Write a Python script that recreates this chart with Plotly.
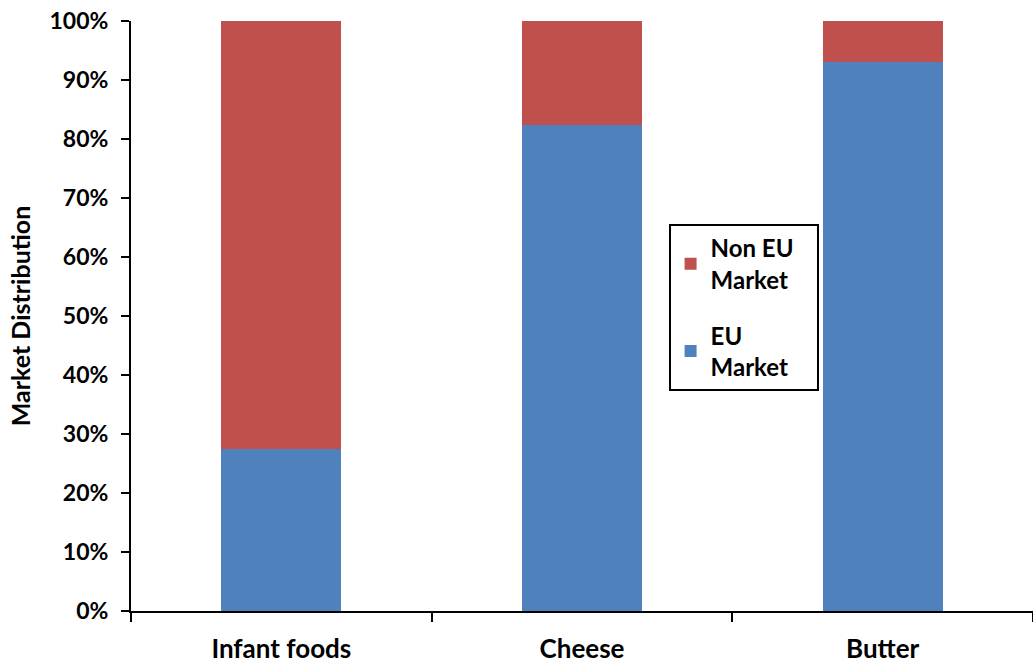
import plotly.graph_objects as go

categories = ["Infant foods", "Cheese", "Butter"]
eu_market = [27.5, 82.4, 93.0]
non_eu_market = [72.5, 17.6, 7.0]
y_ticks = [0, 10, 20, 30, 40, 50, 60, 70, 80, 90, 100]
y_tick_labels = [f"{v}%" for v in y_ticks]

FONT = "Lato, Carlito, Calibri, sans-serif"

fig = go.Figure()
fig.add_trace(go.Bar(
    x=categories, y=eu_market, name="EU<br>Market&nbsp;&nbsp;&nbsp;",
    legendgroup="eu", legendrank=2,
    marker=dict(color="#4F81BD", line=dict(width=0)),
))
fig.add_trace(go.Bar(
    x=categories, y=non_eu_market, name="Non EU&nbsp;&nbsp;&nbsp;<br>Market",
    legendgroup="noneu", legendrank=1,
    marker=dict(color="#C0504D", line=dict(width=0)),
))

fig.update_layout(
    barmode="stack",
    bargap=0.6,
    width=1033, height=666,
    margin=dict(l=131, r=0, t=21, b=55),
    plot_bgcolor="white",
    paper_bgcolor="white",
    font=dict(family=FONT, size=20, color="black"),
    legend=dict(
        x=0.596, y=0.656, xanchor="left", yanchor="top",
        traceorder="grouped",
        bordercolor="black", borderwidth=2,
        font=dict(family=FONT, size=24, color="black", weight="bold"),
        itemsizing="constant",
        tracegroupgap=22,
        bgcolor="white",
    ),
    xaxis=dict(
        showline=True, linecolor="black", linewidth=2,
        ticks="outside", tickson="boundaries", ticklen=9, tickwidth=2, tickcolor="black",
        tickfont=dict(family=FONT, size=26, weight="bold"),
        ticklabelstandoff=14,
        showgrid=False,
    ),
    yaxis=dict(
        range=[0, 100],
        tickvals=y_ticks, ticktext=y_tick_labels,
        showline=True, linecolor="black", linewidth=2,
        ticks="outside", ticklen=8, tickwidth=2, tickcolor="black",
        tickfont=dict(family=FONT, size=23, weight="bold"),
        ticklabelstandoff=8,
        showgrid=False, zeroline=False,
        title=dict(text="<b>Market Distribution</b>", font=dict(family=FONT, size=25, weight="bold"), standoff=12),
    ),
)

fig.write_html("out.html")
